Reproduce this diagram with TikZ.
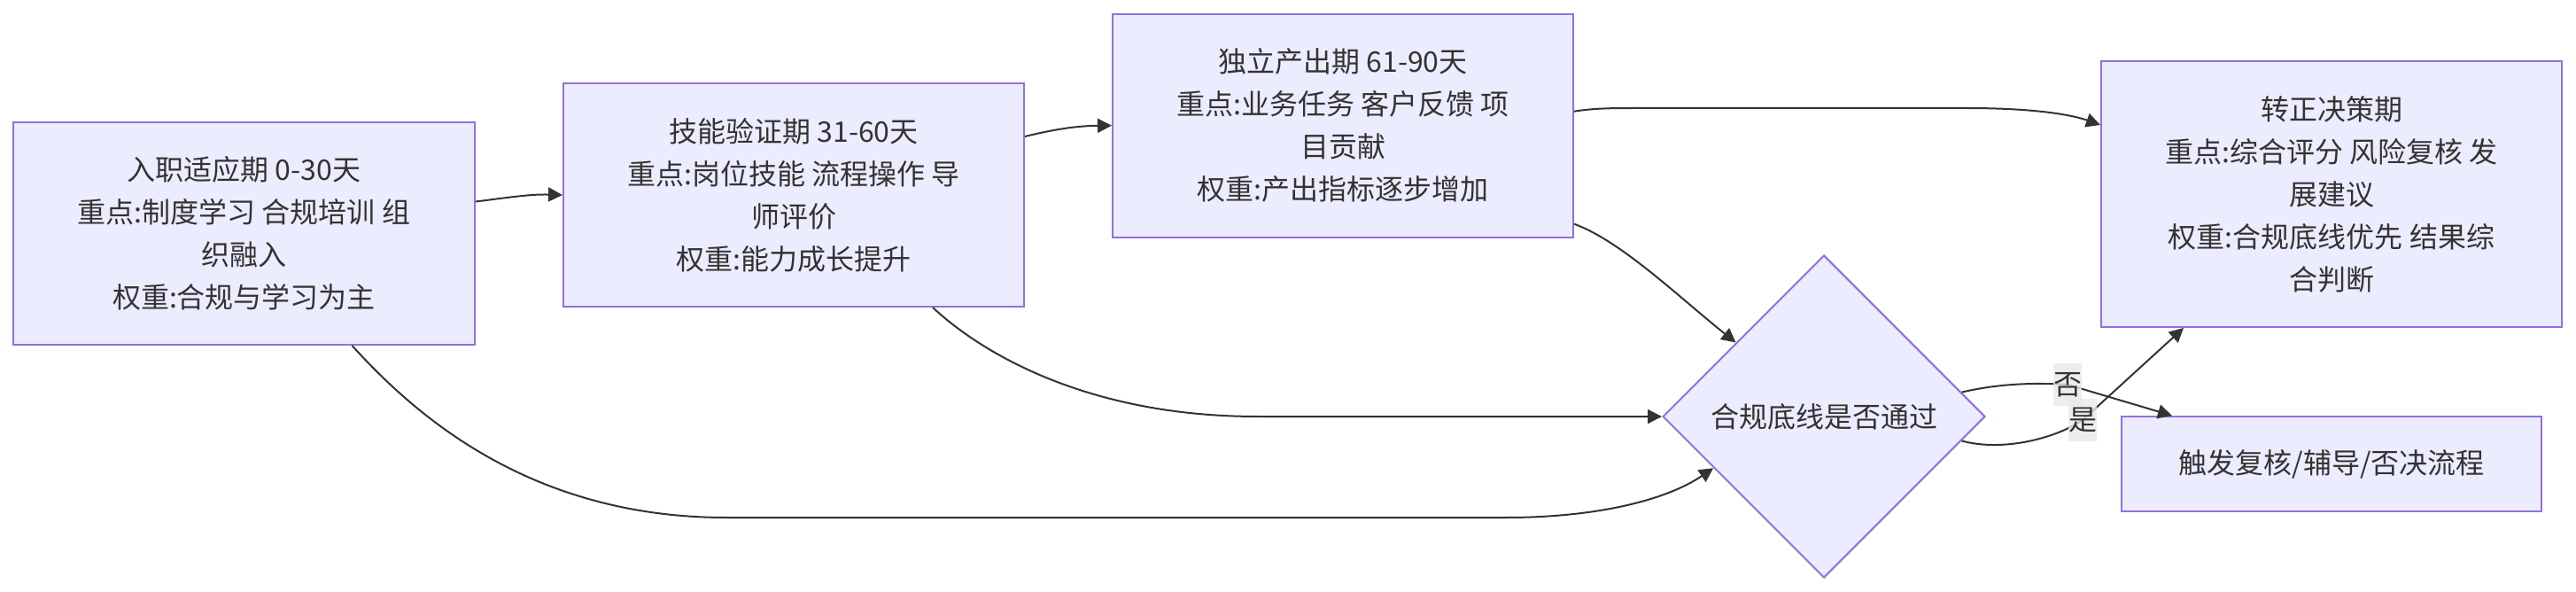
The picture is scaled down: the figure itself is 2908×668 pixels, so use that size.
\documentclass[tikz,border=0pt]{standalone}
\usepackage{fontspec}
\setmainfont{Noto Sans CJK SC}
\usetikzlibrary{shapes.geometric,arrows.meta}
\definecolor{boxfill}{HTML}{ECECFF}
\definecolor{boxline}{HTML}{9370DB}
\definecolor{ink}{HTML}{333333}
\definecolor{lblbg}{HTML}{E8E8E8}
\tikzset{
  txt/.style={font=\fontsize{16pt}{24pt}\selectfont, text=ink},
  box/.style={txt, draw=boxline, fill=boxfill, line width=1pt, align=center, inner sep=0pt},
  decision/.style={txt, diamond, aspect=1, draw=boxline, fill=boxfill, line width=1pt, inner sep=0pt},
  arr/.style={draw=ink, line width=1pt, -{Triangle[length=8pt,width=8pt]}},
  lbl/.style={txt, fill=lblbg, fill opacity=0.8, text opacity=1, inner sep=0pt, minimum width=16pt, minimum height=24pt}
}
\begin{document}
\begin{tikzpicture}[x=0.5pt,y=-0.5pt]
\useasboundingbox (0,0) rectangle (2908,668);
\node[box, minimum width=260.5pt, minimum height=125.5pt] (A) at (275.5,263.5)
  {入职适应期 0-30天\\重点:制度学习 合规培训 组\\织融入\\权重:合规与学习为主};
\node[box, minimum width=260pt, minimum height=126pt] (B) at (896,220)
  {技能验证期 31-60天\\重点:岗位技能 流程操作 导\\师评价\\权重:能力成长提升};
\node[box, minimum width=260pt, minimum height=126pt] (C) at (1516,141.7)
  {独立产出期 61-90天\\重点:业务任务 客户反馈 项\\目贡献\\权重:产出指标逐步增加};
\node[box, minimum width=260pt, minimum height=150pt] (D) at (2632,219)
  {转正决策期\\重点:综合评分 风险复核 发\\展建议\\权重:合规底线优先 结果综\\合判断};
\node[box, minimum width=237pt, minimum height=53.7pt] (E) at (2632,523.7)
  {触发复核/辅导/否决流程};
\node[decision, minimum width=182pt, minimum height=182pt] (dec) at (2059,470)
  {合规底线是否通过};

\draw[arr] ([yshift=18pt]A.east) .. controls (580,222) and (600,219) .. (B.west);
\draw[arr] ([yshift=33pt]B.east) .. controls (1190,146) and (1215,142) .. (C.west);
\draw[arr] ([yshift=8pt]C.east) .. controls (1800,122) and (1820,122) .. (1850,122) -- (2220,122)
  .. controls (2300,122) and (2340,130) .. ([yshift=39pt]D.west);
\draw[arr] ([yshift=-55.5pt]C.east) .. controls (1830,272) and (1895,335) .. (dec.140);
\draw[arr] ([xshift=78.5pt]B.south) .. controls (1110,400) and (1230,470) .. (1420,470) -- (dec.west);
\draw[arr] ([xshift=61pt]A.south) .. controls (470,470) and (600,584) .. (820,584) -- (1700,584)
  .. controls (1800,584) and (1880,565) .. (dec.205);
\coordinate (no) at (2334,434);
\coordinate (yes) at (2351,474);
\draw[arr] (dec.10) .. controls (2260,432) and (2300,432) .. (no) -- ([xshift=-90pt]E.north);
\draw[arr] (dec.-10) .. controls (2260,510) and (2320,495) .. (yes) -- ([xshift=-83.5pt]D.south);
\node[lbl] (nolbl) at (no) {否};
\node[lbl] (yeslbl) at (yes) {是};
\end{tikzpicture}
\end{document}
